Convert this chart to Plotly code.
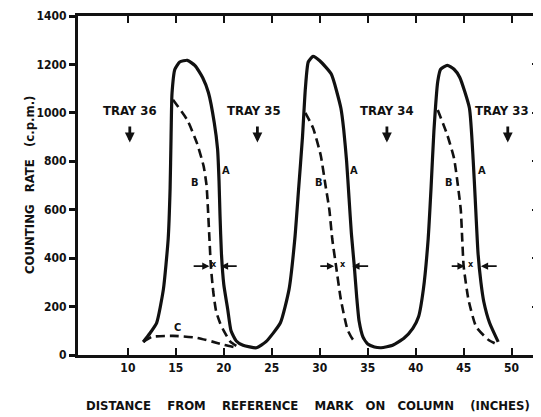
import plotly.graph_objects as go

# Curve A (solid) - counting rate, c.p.m.
a_x = [11.6, 12.3, 13.0, 13.7, 14.2, 14.4, 14.5, 14.6, 14.9, 15.4, 16.2, 17.0, 17.8, 18.4, 19.0, 19.35, 19.5, 19.6, 19.75, 20.0, 20.4, 20.75, 21.3, 22.0, 23.4, 24.4, 25.9, 26.8, 27.4, 27.8, 28.2, 28.5, 28.8, 29.3, 30.0, 31.2, 32.2, 32.5, 32.8, 33.05, 33.3, 33.6, 33.85, 34.1, 34.5, 35.0, 35.7, 36.4, 37.6, 38.8, 39.7, 40.3, 40.8, 41.3, 41.6, 41.9, 42.3, 42.6, 43.3, 44.0, 44.6, 45.6, 46.0, 46.2, 46.5, 46.8, 47.1, 47.7, 48.6]
a_y = [54, 90, 133, 271, 479, 688, 900, 1080, 1180, 1210, 1217, 1195, 1145, 1083, 960, 850, 720, 580, 420, 290, 190, 100, 58, 40, 30, 55, 133, 271, 479, 688, 900, 1100, 1210, 1233, 1215, 1160, 1020, 930, 800, 650, 500, 367, 240, 140, 75, 45, 33, 30, 40, 70, 110, 158, 271, 479, 688, 925, 1130, 1180, 1196, 1180, 1146, 1020, 800, 650, 420, 300, 220, 133, 54]

# Curves B (dashed), one per peak
b1_x = [14.7, 16.2, 17.2, 17.9, 18.2, 18.35, 18.5, 18.65, 18.9, 19.2, 19.6, 20.0, 20.7, 21.5]
b1_y = [1054, 970, 875, 779, 700, 600, 480, 367, 260, 180, 133, 100, 54, 33]
b2_x = [28.5, 29.3, 30.1, 30.6, 31.0, 31.3, 31.7, 32.2, 32.9, 33.5, 33.9]
b2_y = [1000, 938, 825, 700, 600, 480, 367, 229, 104, 62, 56]
b3_x = [42.3, 43.3, 44.0, 44.4, 44.7, 44.85, 45.0, 45.5, 46.3, 47.6, 48.6]
b3_y = [1012, 908, 812, 700, 600, 480, 367, 229, 117, 62, 42]

# Curve C (dashed)
c_x = [11.6, 12.5, 14.7, 17.2, 19.3, 20.0, 21.5]
c_y = [54, 75, 79, 71, 50, 42, 29]

# Tray labels
tray_labels = ["TRAY 36", "TRAY 35", "TRAY 34", "TRAY 33"]
tray_text_x = [10.2, 23.1, 37.0, 49.0]
tray_arrow_x = [10.2, 23.5, 37.0, 49.6]

# Curve labels
a_lab_x = [20.2, 33.6, 46.9]
b_lab_x = [17.0, 29.9, 43.5]
# "x" width markers: (left tail, left head, label, right head, right tail)
xm_left_tail = [16.7, 29.9, 43.6]
xm_left_head = [18.5, 31.5, 45.1]
xm_label = [19.0, 32.4, 45.8]
xm_right_head = [19.7, 33.4, 46.8]
xm_right_tail = [21.5, 35.2, 48.6]
xm_y = 367

x_ticks = [10, 15, 20, 25, 30, 35, 40, 45, 50]
y_ticks = [0, 200, 400, 600, 800, 1000, 1200, 1400]

INK = "#111111"
FONT = "DejaVu Sans Condensed, Liberation Sans Narrow, Liberation Sans, sans-serif"

fig = go.Figure()
fig.add_trace(go.Scatter(x=a_x, y=a_y, mode="lines", line=dict(color=INK, width=3.2, shape="spline", smoothing=0.5), showlegend=False))
for bx, by in [(b1_x, b1_y), (b2_x, b2_y), (b3_x, b3_y), (c_x, c_y)]:
    fig.add_trace(go.Scatter(x=bx, y=by, mode="lines", line=dict(color=INK, width=2.6, dash="9px,5px", shape="spline", smoothing=0.5), showlegend=False))
# invisible trace for right-side tick axis
fig.add_trace(go.Scatter(x=[30], y=[0], yaxis="y2", mode="markers", marker=dict(opacity=0), showlegend=False, hoverinfo="skip"))

ann = []
for t, tx, axx in zip(tray_labels, tray_text_x, tray_arrow_x):
    ann.append(dict(x=tx, y=1008, text="<b>%s</b>" % t, showarrow=False, font=dict(size=13, color=INK, family=FONT)))
    ann.append(dict(x=axx, y=878, ax=axx, ay=950, axref="x", ayref="y", text="", showarrow=True,
                    arrowhead=2, arrowsize=0.7, arrowwidth=2.8, arrowcolor=INK))
for lx in a_lab_x:
    ann.append(dict(x=lx, y=762, text="<b>A</b>", showarrow=False, font=dict(size=11, color=INK, family=FONT)))
for lx in b_lab_x:
    ann.append(dict(x=lx, y=712, text="<b>B</b>", showarrow=False, font=dict(size=11, color=INK, family=FONT)))
ann.append(dict(x=15.2, y=115, text="<b>C</b>", showarrow=False, font=dict(size=11, color=INK, family=FONT)))
for lt, lh, lb, rh, rt in zip(xm_left_tail, xm_left_head, xm_label, xm_right_head, xm_right_tail):
    ann.append(dict(x=lh, y=xm_y, ax=lt, ay=xm_y, axref="x", ayref="y", text="", showarrow=True,
                    arrowhead=2, arrowsize=0.9, arrowwidth=1.6, arrowcolor=INK))
    ann.append(dict(x=rh, y=xm_y, ax=rt, ay=xm_y, axref="x", ayref="y", text="", showarrow=True,
                    arrowhead=2, arrowsize=0.9, arrowwidth=1.6, arrowcolor=INK))
    ann.append(dict(x=lb, y=xm_y + 8, text="<b>x</b>", showarrow=False, font=dict(size=9, color=INK, family=FONT)))

# axis titles
ann.append(dict(xref="paper", yref="paper", x=0, y=0.5, xshift=-58, textangle=-90,
                text="<b>COUNTING\u00a0\u00a0\u00a0RATE\u00a0\u00a0\u00a0(c.p.m.)</b>", showarrow=False,
                font=dict(size=13, color=INK, family=FONT)))
ann.append(dict(xref="paper", yref="paper", x=0.5, y=0, yshift=-50, yanchor="middle",
                text="<b>DISTANCE\u00a0\u00a0\u00a0\u00a0FROM\u00a0\u00a0\u00a0\u00a0REFERENCE\u00a0\u00a0\u00a0\u00a0MARK\u00a0\u00a0\u00a0ON\u00a0\u00a0\u00a0COLUMN\u00a0\u00a0\u00a0\u00a0(INCHES)</b>",
                showarrow=False, font=dict(size=13, color=INK, family=FONT)))

# page body has an 8px margin; size the figure so the plot lands where the reference has it
fig.update_layout(
    width=533, height=409,
    margin=dict(l=70, r=3, t=8, b=62),
    paper_bgcolor="white", plot_bgcolor="white",
    annotations=ann,
    xaxis=dict(range=[4.8, 52.75], tickvals=x_ticks, ticktext=["<b>%d</b>" % v for v in x_ticks],
               ticks="inside", ticklen=7, tickwidth=2, tickcolor=INK, mirror="ticks", automargin=False,
               showline=True, linewidth=3, linecolor=INK, showgrid=False, zeroline=False,
               tickfont=dict(size=12, color=INK, family=FONT)),
    yaxis=dict(range=[0, 1400], tickvals=y_ticks, ticktext=["<b>%d</b>" % v for v in y_ticks],
               ticks="outside", ticklen=6, tickwidth=2.5, tickcolor=INK, mirror=True, automargin=False,
               showline=True, linewidth=3, linecolor=INK, showgrid=False, zeroline=False,
               tickfont=dict(size=12, color=INK, family=FONT)),
    yaxis2=dict(range=[0, 1400], overlaying="y", side="right", tickvals=[200, 400, 600, 800, 1000, 1200],
                ticks="inside", ticklen=6, tickwidth=2, tickcolor=INK, showticklabels=False, automargin=False,
                showline=False, showgrid=False, zeroline=False),
)

fig.write_html("out.html")
